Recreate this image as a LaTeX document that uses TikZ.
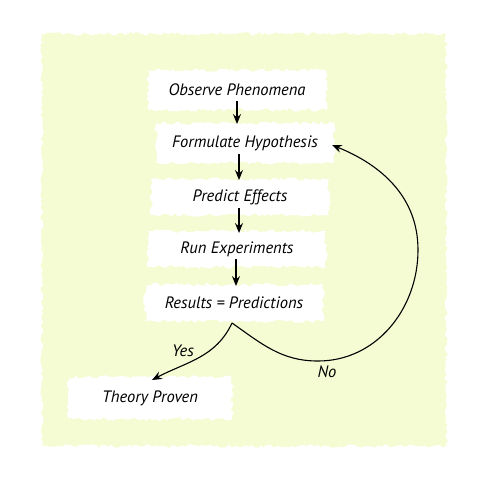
\documentclass[tikz,border=0pt]{standalone}
\usepackage{fontspec}
\setmainfont{PT Sans}
\usetikzlibrary{arrows.meta,decorations.pathmorphing}
\definecolor{bgyel}{HTML}{F5FBD3}
\begin{document}
\begin{tikzpicture}[x=1pt,y=-1pt,
  rough/.style={decorate,decoration={random steps,segment length=3pt,amplitude=1.8pt}},
  stepbox/.style={fill=white,rough,minimum width=#1,minimum height=40pt,inner sep=0pt,font=\itshape\fontsize{16.5}{19}\selectfont},
  stepbox/.default=178pt,
  flow/.style={-{Stealth[length=10pt,width=8pt,inset=3.5pt]},line width=1.1pt},
  lbl/.style={font=\itshape\fontsize{16.5}{19}\selectfont}]
\useasboundingbox (0,0) rectangle (489,480);
\fill[bgyel,rough] (42,34) rectangle (446,446);
\node[stepbox] (obs) at (237,90) {Observe Phenomena};
\node[stepbox] (hyp) at (245,143) {Formulate Hypothesis};
\node[stepbox,minimum height=36pt] (pre) at (240,197) {Predict Effects};
\node[stepbox,minimum height=36pt] (run) at (237,249) {Run Experiments};
\node[stepbox,minimum height=37pt] (res) at (234,303) {Results = Predictions};
\node[stepbox=164pt,minimum height=42pt] (the) at (150,398) {Theory Proven};
\draw[flow] (237,101) -- (237,124);
\draw[flow] (239,154) -- (239,180);
\draw[flow] (239,208) -- (239,233);
\draw[flow] (236,259) -- (236,286);
\coordinate (s) at (232,323);
\draw[flow] (s) to[out=-115,in=28] (152,380);
\node[lbl] (yes) at (183,351) {Yes};
\draw[flow] (s) to[out=-35,in=180] (318,361) to[out=0,in=-90] (418,250) to[out=90,in=-22] (332,145);
\node[lbl] (no) at (327,372) {No};
\end{tikzpicture}
\end{document}
